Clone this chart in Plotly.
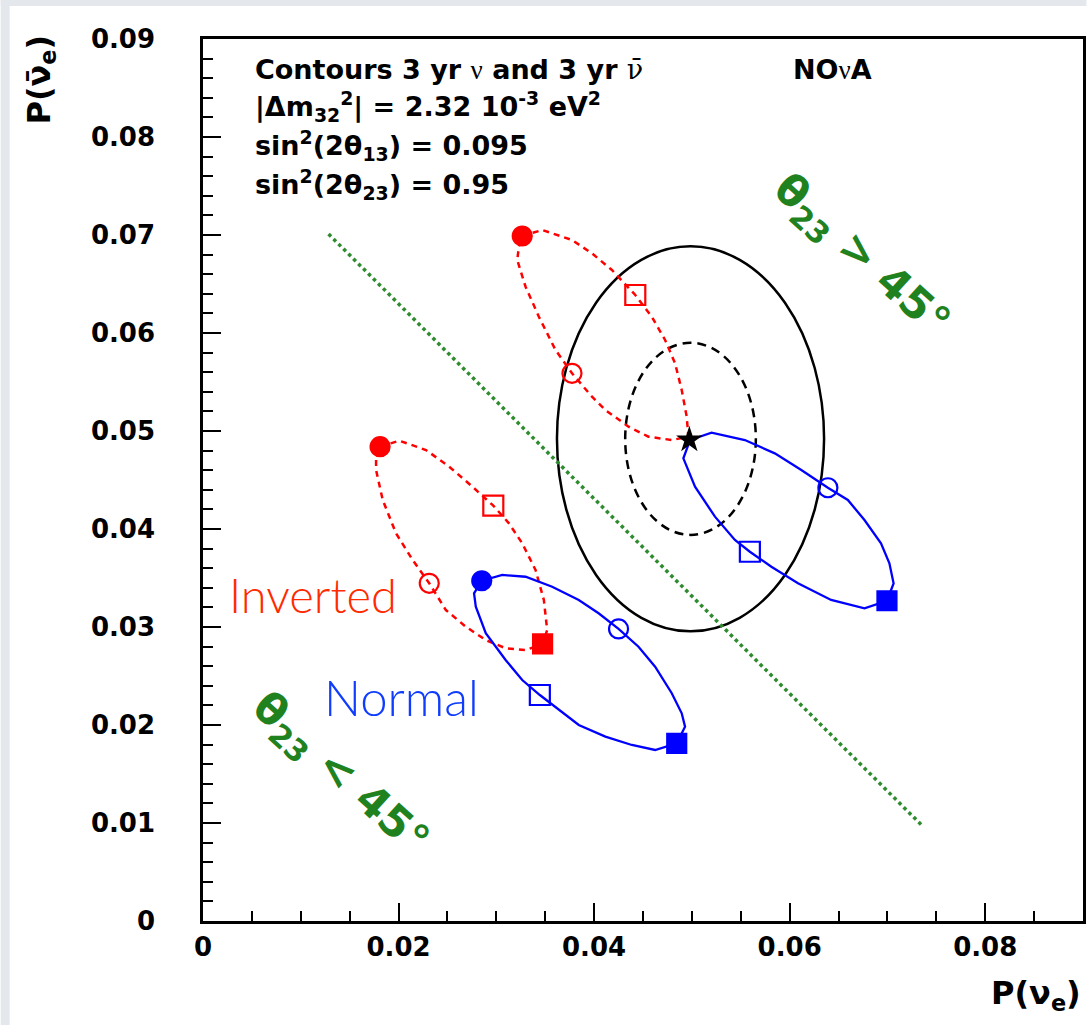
import plotly.graph_objects as go

# ---------------- data ----------------
x_ticks = [0, 0.02, 0.04, 0.06, 0.08]
x_tick_labels = ["0", "0.02", "0.04", "0.06", "0.08"]
y_ticks = [0, 0.01, 0.02, 0.03, 0.04, 0.05, 0.06, 0.07, 0.08, 0.09]
y_tick_labels = ["0", "0.01", "0.02", "0.03", "0.04", "0.05", "0.06", "0.07", "0.08", "0.09"]

# theta23 = 45 deg divider line
divider_x = [0.01284, 0.07359]
divider_y = [0.07010, 0.00969]

# Inverted hierarchy, theta23 > 45 (upper red)
inv_hi_x = [0.03265, 0.03469, 0.03774, 0.03978, 0.04182, 0.04421, 0.04590, 0.04726,
            0.04828, 0.04896, 0.04947, 0.04964, 0.04794, 0.04556, 0.04352, 0.04115,
            0.03978, 0.03774, 0.03605, 0.03435, 0.03299, 0.03214, 0.03231, 0.03265]
inv_hi_y = [0.06990, 0.07051, 0.06949, 0.06813, 0.06643, 0.06388, 0.06166, 0.05929,
            0.05691, 0.05418, 0.05146, 0.04942, 0.04908, 0.04942, 0.05044, 0.05214,
            0.05350, 0.05589, 0.05827, 0.06166, 0.06472, 0.06745, 0.06881, 0.06990]

# Inverted hierarchy, theta23 < 45 (lower red)
inv_lo_x = [0.01811, 0.02008, 0.02280, 0.02518, 0.02755, 0.02969, 0.03129, 0.03265,
            0.03401, 0.03486, 0.03520, 0.03473, 0.03299, 0.03095, 0.02892, 0.02688,
            0.02484, 0.02314, 0.02144, 0.01974, 0.01838, 0.01770, 0.01770, 0.01811]
inv_lo_y = [0.04840, 0.04901, 0.04806, 0.04636, 0.04432, 0.04238, 0.04058, 0.03854,
            0.03582, 0.03276, 0.02969, 0.02827, 0.02765, 0.02783, 0.02867, 0.03003,
            0.03173, 0.03446, 0.03684, 0.03956, 0.04296, 0.04602, 0.04738, 0.04840]

# Normal hierarchy, theta23 < 45 (lower blue)
nor_lo_x = [0.02851, 0.03061, 0.03299, 0.03571, 0.03843, 0.04046, 0.04250, 0.04454,
            0.04624, 0.04794, 0.04896, 0.04930, 0.04845, 0.04624, 0.04386, 0.04115,
            0.03843, 0.03639, 0.03445, 0.03265, 0.03095, 0.02892, 0.02790, 0.02772, 0.02851]
nor_lo_y = [0.03472, 0.03531, 0.03513, 0.03411, 0.03276, 0.03140, 0.02980, 0.02799,
            0.02595, 0.02324, 0.02119, 0.01983, 0.01813, 0.01745, 0.01796, 0.01881,
            0.02000, 0.02153, 0.02306, 0.02459, 0.02663, 0.02936, 0.03207, 0.03344, 0.03472]

# Normal hierarchy, theta23 > 45 (upper blue)
nor_hi_x = [0.04981, 0.05201, 0.05542, 0.05848, 0.06119, 0.06391, 0.06595, 0.06765,
            0.06934, 0.07020, 0.07063, 0.06995, 0.06765, 0.06424, 0.06085, 0.05813,
            0.05593, 0.05440, 0.05236, 0.05032, 0.04913, 0.04981]
nor_hi_y = [0.04908, 0.04983, 0.04908, 0.04772, 0.04602, 0.04421, 0.04296, 0.04092,
            0.03854, 0.03650, 0.03446, 0.03268, 0.03191, 0.03276, 0.03446, 0.03615,
            0.03768, 0.03888, 0.04126, 0.04432, 0.04721, 0.04908]

# delta_CP markers (filled circle, open circle, open square, filled square)
red_filled_circle_x = [0.03265, 0.01811]
red_filled_circle_y = [0.06990, 0.04840]
red_open_circle_x = [0.03774, 0.02314]
red_open_circle_y = [0.05589, 0.03446]
red_open_square_x = [0.04421, 0.02969]
red_open_square_y = [0.06388, 0.04238]
red_filled_square_x = [0.03473]
red_filled_square_y = [0.02827]

blue_filled_circle_x = [0.02851]
blue_filled_circle_y = [0.03472]
blue_open_circle_x = [0.06391, 0.04250]
blue_open_circle_y = [0.04421, 0.02980]
blue_open_square_x = [0.05593, 0.03445]
blue_open_square_y = [0.03768, 0.02306]
blue_filled_square_x = [0.06995, 0.04845]
blue_filled_square_y = [0.03268, 0.01813]

# best fit point and contours
best_fit_x = [0.04974]
best_fit_y = [0.04910]
contour_center = [0.04986, 0.04920]
contour_outer_radii = [0.01366, 0.01964]
contour_inner_radii = [0.00668, 0.00980]

# ---------------- figure ----------------
RED = "#ff0000"
BLUE = "#0000ff"
GREEN = "#1f821f"
BOLD = "DejaVu Sans"
NU = '<span style="font-family:Liberation Serif;font-weight:normal">ν</span>'
NUBAR = '<span style="font-family:DejaVu Serif;font-weight:normal">ν̄</span>'

fig = go.Figure()

fig.add_trace(go.Scatter(x=divider_x, y=divider_y, mode="lines",
                         line=dict(color="#2e8b2e", width=3.5, dash="dot")))

for xs, ys in [(inv_hi_x, inv_hi_y), (inv_lo_x, inv_lo_y)]:
    fig.add_trace(go.Scatter(x=xs, y=ys, mode="lines",
                             line=dict(color=RED, width=2.5, dash="6px,5px")))
for xs, ys in [(nor_hi_x, nor_hi_y), (nor_lo_x, nor_lo_y)]:
    fig.add_trace(go.Scatter(x=xs, y=ys, mode="lines",
                             line=dict(color=BLUE, width=2.3)))

def add_markers(xs, ys, color, symbol, size):
    fig.add_trace(go.Scatter(
        x=xs, y=ys, mode="markers",
        marker=dict(symbol=symbol, size=size, color=color,
                    line=dict(color=color, width=2.2))))

add_markers(red_filled_circle_x, red_filled_circle_y, RED, "circle", 19)
add_markers(red_open_circle_x, red_open_circle_y, RED, "circle-open", 19)
add_markers(red_open_square_x, red_open_square_y, RED, "square-open", 20)
add_markers(red_filled_square_x, red_filled_square_y, RED, "square", 19)
add_markers(blue_filled_circle_x, blue_filled_circle_y, BLUE, "circle", 19)
add_markers(blue_open_circle_x, blue_open_circle_y, BLUE, "circle-open", 19)
add_markers(blue_open_square_x, blue_open_square_y, BLUE, "square-open", 20)
add_markers(blue_filled_square_x, blue_filled_square_y, BLUE, "square", 19)

fig.add_trace(go.Scatter(x=best_fit_x, y=best_fit_y, mode="markers",
                         marker=dict(symbol="star", size=20, color="black",
                                     line=dict(width=0))))

shapes = []
for radii, dash in [(contour_outer_radii, "solid"), (contour_inner_radii, "9px,6px")]:
    shapes.append(dict(type="circle", xref="x", yref="y",
                       x0=contour_center[0] - radii[0], x1=contour_center[0] + radii[0],
                       y0=contour_center[1] - radii[1], y1=contour_center[1] + radii[1],
                       line=dict(color="black", width=2.5, dash=dash), layer="below"))

# light grey slide border strips
shapes.append(dict(type="rect", xref="paper", yref="paper", x0=-0.2299, x1=-0.2197,
                   y0=-0.118, y1=1.045, fillcolor="#e4e8ec", line=dict(width=0), layer="below"))
shapes.append(dict(type="rect", xref="paper", yref="paper", x0=-0.2299, x1=1.004,
                   y0=1.0374, y1=1.045, fillcolor="#e4e8ec", line=dict(width=0), layer="below"))

info_font = dict(family=BOLD, size=27, color="black", weight="bold")
annotations = [
    dict(text=f"Contours 3 yr {NU} and 3 yr {NUBAR}", x=0.0566, y=0.9649),
    dict(text="|Δm<sub>32</sub><sup>2</sup>| = 2.32 10<sup>-3</sup> eV<sup>2</sup>", x=0.0566, y=0.924),
    dict(text="sin<sup>2</sup>(2θ<sub>13</sub>) = 0.095", x=0.0566, y=0.8787),
    dict(text="sin<sup>2</sup>(2θ<sub>23</sub>) = 0.95", x=0.0566, y=0.8356),
    dict(text=f"NO{NU}A", x=0.668, y=0.9649),
]
for a in annotations:
    a.update(xref="paper", yref="paper", xanchor="left", yanchor="middle",
             showarrow=False, font=info_font)

annotations += [
    dict(text="P(ν<sub>e</sub>)", xref="paper", yref="paper", x=1.0, y=-0.084,
         xanchor="right", yanchor="middle", showarrow=False,
         font=dict(family=BOLD, size=32, color="black", weight="bold")),
    dict(text="P(ν̄<sub>e</sub>)", xref="paper", yref="paper", x=-0.1846, y=0.9535,
         xanchor="center", yanchor="middle", textangle=-90, showarrow=False,
         font=dict(family=BOLD, size=32, color="black", weight="bold")),
    dict(text="Inverted", xref="paper", yref="paper", x=0.1246, y=0.3696,
         xanchor="center", yanchor="middle", showarrow=False,
         font=dict(family="Lato", size=47, color="#ff2a00", weight=300)),
    dict(text="Normal", xref="paper", yref="paper", x=0.2259, y=0.2545,
         xanchor="center", yanchor="middle", showarrow=False,
         font=dict(family="Lato", size=49, color="#0f3cff", weight=300)),
    dict(text="θ<sub>23</sub> > 45°", xref="paper", yref="paper", x=0.7475, y=0.7528,
         xanchor="center", yanchor="middle", textangle=42, showarrow=False,
         font=dict(family=BOLD, size=43, color=GREEN, weight="bold")),
    dict(text="θ<sub>23</sub> < 45°", xref="paper", yref="paper", x=0.155, y=0.1655,
         xanchor="center", yanchor="middle", textangle=42, showarrow=False,
         font=dict(family=BOLD, size=43, color=GREEN, weight="bold")),
]

axis_common = dict(showgrid=False, zeroline=False, showline=True, linecolor="black",
                   linewidth=2.5, mirror=True, ticks="inside", ticklen=18, tickwidth=1.5,
                   tickcolor="black", tickmode="array",
                   tickfont=dict(family=BOLD, size=26, color="black", weight="bold"))

fig.update_layout(
    width=1089, height=1025,
    margin=dict(l=203, r=3, t=39, b=104),
    paper_bgcolor="white", plot_bgcolor="white",
    showlegend=False,
    shapes=shapes, annotations=annotations,
    xaxis=dict(range=[0, 0.09], tickvals=x_ticks, ticktext=x_tick_labels,
               ticklabelstandoff=1,
               minor=dict(tickmode="linear", tick0=0, dtick=0.005, ticks="inside",
                          ticklen=10, tickwidth=1.5, tickcolor="black"),
               **axis_common),
    yaxis=dict(range=[0, 0.09], tickvals=y_ticks, ticktext=y_tick_labels,
               ticklabelstandoff=40,
               minor=dict(tickmode="linear", tick0=0, dtick=0.002, ticks="inside",
                          ticklen=10, tickwidth=1.5, tickcolor="black"),
               **axis_common),
)

fig.write_html("out.html", config={"displayModeBar": False},
               post_script="document.body.style.margin='0';")
